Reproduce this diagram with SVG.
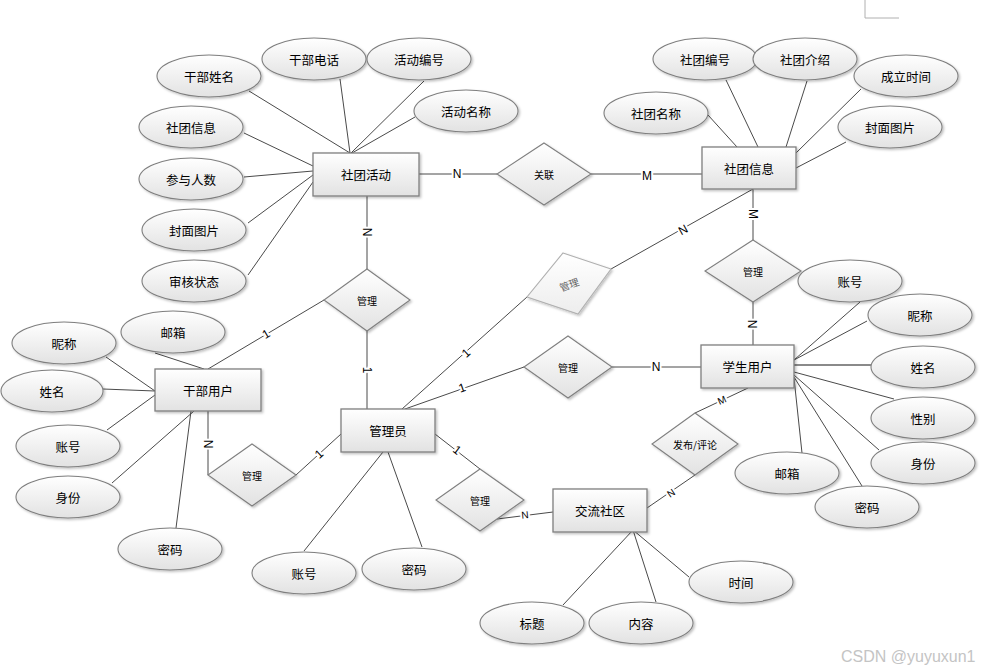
<svg xmlns="http://www.w3.org/2000/svg" width="990" height="668" viewBox="0 0 990 668">
<defs>
  <linearGradient id="g" x1="0" y1="0" x2="0" y2="1">
    <stop offset="0" stop-color="#ffffff"/>
    <stop offset="1" stop-color="#e2e2e2"/>
  </linearGradient>
  <linearGradient id="gl" x1="0" y1="0" x2="0" y2="1">
    <stop offset="0" stop-color="#ffffff"/>
    <stop offset="1" stop-color="#ededed"/>
  </linearGradient>
  <filter id="sh" x="-20%" y="-20%" width="140%" height="150%">
    <feDropShadow dx="1.5" dy="1.5" stdDeviation="1" flood-color="#000" flood-opacity="0.25"/>
  </filter>
</defs>
<style>
  .ent rect{fill:url(#g);stroke:#7f7f7f;stroke-width:1.3;filter:url(#sh)}
  .attr ellipse{fill:url(#g);stroke:#7f7f7f;stroke-width:1.1;filter:url(#sh)}
  .rel polygon{fill:url(#g);stroke:#7f7f7f;stroke-width:1.1;filter:url(#sh)}
  .rel.faint polygon{fill:url(#gl);stroke:#b0b0b0}
  text{font-family:"Noto Sans CJK SC","Liberation Sans",sans-serif;text-anchor:middle;dominant-baseline:central;fill:#000}
  .ent text,.attr text{font-size:12.5px}
  .rel text{font-size:10px}
  .rel.faint text{fill:#606060}
  #connectors line,#connectors polyline{stroke:#4a4a4a;stroke-width:1;fill:none}
  #connectors .thick{stroke:#8a8a8a;stroke-width:2}
  .lbl{font-family:"Liberation Sans",sans-serif;font-size:12px;paint-order:stroke;stroke:#fff;stroke-width:4px;stroke-linejoin:round}
  .wm{font-family:"Liberation Sans",sans-serif;font-size:16px;fill:#c4c4c4;text-anchor:start}
</style>
<rect width="990" height="668" fill="#fff"/>
<path d="M865,0 V18 H899" fill="none" stroke="#b0b0b0" stroke-width="1"/>

<g id="connectors">
  <line x1="249" y1="91" x2="350" y2="153"/>
  <line x1="340" y1="79" x2="350" y2="153"/>
  <line x1="424" y1="81" x2="351" y2="153"/>
  <line x1="415" y1="117" x2="352" y2="153"/>
  <line x1="244" y1="133" x2="313" y2="166"/>
  <line x1="244" y1="177" x2="313" y2="171"/>
  <line x1="248" y1="223" x2="313" y2="175"/>
  <line x1="248" y1="275" x2="313" y2="182"/>

  <line x1="708" y1="115" x2="737" y2="147"/>
  <line x1="726" y1="80" x2="758" y2="147"/>
  <line x1="807" y1="81" x2="786" y2="147"/>
  <line x1="861" y1="89" x2="796" y2="153"/>
  <line x1="846" y1="142" x2="796" y2="168"/>

  <line x1="419" y1="174" x2="497" y2="174"/>
  <line x1="591" y1="174" x2="702" y2="174"/>
  <line x1="367" y1="196" x2="367" y2="269"/>
  <line x1="367" y1="331" x2="367" y2="409"/>
  <line x1="208" y1="369" x2="324" y2="300"/>
  <polyline points="208,411 208,475"/>
  <line x1="296" y1="475" x2="341" y2="434"/>
  <line x1="402" y1="409" x2="527" y2="297"/>
  <line x1="611" y1="269" x2="753" y2="189"/>
  <line x1="405" y1="409" x2="524" y2="367"/>
  <line x1="612" y1="367" x2="701" y2="367"/>
  <line x1="753" y1="189" x2="753" y2="240"/>
  <line x1="753" y1="302" x2="753" y2="345"/>
  <line x1="435" y1="434" x2="480" y2="469"/>
  <line x1="497" y1="519" x2="553" y2="512"/>
  <line x1="647" y1="508" x2="695" y2="475"/>
  <line x1="695" y1="413" x2="748" y2="388"/>

  <line x1="106" y1="357" x2="155" y2="391"/>
  <line x1="155" y1="353" x2="204" y2="369"/>
  <line x1="103" y1="389" x2="155" y2="391"/>
  <line x1="107" y1="430" x2="155" y2="395"/>
  <line x1="112" y1="483" x2="194" y2="411"/>
  <line x1="176" y1="528" x2="191" y2="411"/>

  <line x1="304" y1="551" x2="383" y2="452"/>
  <line x1="422" y1="547" x2="388" y2="452"/>

  <line x1="860" y1="302" x2="794" y2="360"/>
  <line x1="867" y1="321" x2="794" y2="360"/>
  <line class="thick" x1="794" y1="365" x2="871" y2="365"/>
  <line x1="794" y1="372" x2="894" y2="399"/>
  <line x1="794" y1="375" x2="879" y2="450"/>
  <line x1="794" y1="377" x2="862" y2="486"/>
  <line x1="794" y1="378" x2="802" y2="453"/>

  <line x1="633" y1="530" x2="563" y2="605"/>
  <line x1="633" y1="530" x2="656" y2="602"/>
  <line x1="633" y1="530" x2="689" y2="577"/>

  <text class="lbl" x="457" y="174">N</text>
  <text class="lbl" x="647" y="176">M</text>
  <text class="lbl" transform="translate(367,232) rotate(90)">N</text>
  <text class="lbl" transform="translate(367,370) rotate(90)">1</text>
  <text class="lbl" transform="translate(266,334) rotate(-31)">1</text>
  <text class="lbl" transform="translate(208,444) rotate(90)">N</text>
  <text class="lbl" transform="translate(319,454) rotate(-42)">1</text>
  <text class="lbl" transform="translate(466,353) rotate(-42)">1</text>
  <text class="lbl" transform="translate(462,388) rotate(-19)">1</text>
  <text class="lbl" transform="translate(683,230) rotate(-29)">N</text>
  <text class="lbl" transform="translate(753,214) rotate(90)">M</text>
  <text class="lbl" transform="translate(752,324) rotate(90)">N</text>
  <text class="lbl" x="656" y="367">N</text>
  <text class="lbl" transform="translate(457,450) rotate(37)">1</text>
  <text class="lbl" transform="translate(525,515) rotate(-6)" style="font-size:10px">N</text>
  <text class="lbl" transform="translate(671,493) rotate(-34)" style="font-size:10px">N</text>
  <text class="lbl" transform="translate(722,400) rotate(-24)" style="font-size:10px">M</text>
</g>

<g id="ent-shetuanhuodong" class="ent"><rect x="313" y="153" width="106" height="43"/><text x="366" y="174.5">社团活动</text></g>
<g id="ent-shetuanxinxi" class="ent"><rect x="702" y="147" width="94" height="42"/><text x="749" y="168">社团信息</text></g>
<g id="ent-ganbuyonghu" class="ent"><rect x="155" y="369" width="106" height="42"/><text x="208" y="390">干部用户</text></g>
<g id="ent-guanliyuan" class="ent"><rect x="341" y="409" width="94" height="43"/><text x="388" y="430.5">管理员</text></g>
<g id="ent-xueshengyonghu" class="ent"><rect x="701" y="345" width="93" height="43"/><text x="747.5" y="366.5">学生用户</text></g>
<g id="ent-jiaoliushequ" class="ent"><rect x="553" y="489" width="94" height="43"/><text x="600" y="510.5">交流社区</text></g>

<g id="rel-guanlian" class="rel"><polygon points="544,143 591,174 544,205 497,174"/><text x="544" y="174">关联</text></g>
<g id="rel-guanli-1" class="rel"><polygon points="367,269 410,300 367,331 324,300"/><text x="367" y="300">管理</text></g>
<g id="rel-guanli-2" class="rel"><polygon points="753,240 801,271 753,302 705,271"/><text x="753" y="271">管理</text></g>
<g id="rel-guanli-3" class="rel faint"><polygon points="563,253 611,269 578,314 527,297"/><text transform="translate(569,284) rotate(-20)">管理</text></g>
<g id="rel-guanli-4" class="rel"><polygon points="568,336 612,367 568,398 524,367"/><text x="568" y="367">管理</text></g>
<g id="rel-guanli-5" class="rel"><polygon points="252,444 296,475 252,506 208,475"/><text x="252" y="475">管理</text></g>
<g id="rel-guanli-6" class="rel"><polygon points="480,469 524,500 480,531 436,500"/><text x="480" y="500">管理</text></g>
<g id="rel-fabu" class="rel"><polygon points="695,413 738,444 695,475 652,444"/><text x="695" y="444">发布/评论</text></g>

<g id="attr-ganbuxingming" class="attr"><ellipse cx="209" cy="76" rx="52" ry="21"/><text x="209" y="76">干部姓名</text></g>
<g id="attr-ganbudianhua" class="attr"><ellipse cx="314" cy="59" rx="52" ry="21"/><text x="314" y="59">干部电话</text></g>
<g id="attr-huodongbianhao" class="attr"><ellipse cx="419" cy="59" rx="52" ry="21"/><text x="419" y="59">活动编号</text></g>
<g id="attr-huodongmingcheng" class="attr"><ellipse cx="466" cy="111" rx="52" ry="21"/><text x="466" y="111">活动名称</text></g>
<g id="attr-shetuanxinxi" class="attr"><ellipse cx="191" cy="127" rx="52" ry="21"/><text x="191" y="127">社团信息</text></g>
<g id="attr-canyurenshu" class="attr"><ellipse cx="191" cy="179" rx="52" ry="21"/><text x="191" y="179">参与人数</text></g>
<g id="attr-fengmian-1" class="attr"><ellipse cx="194" cy="230" rx="52" ry="21"/><text x="194" y="230">封面图片</text></g>
<g id="attr-shenhe" class="attr"><ellipse cx="194" cy="281" rx="52" ry="21"/><text x="194" y="281">审核状态</text></g>

<g id="attr-shetuanbianhao" class="attr"><ellipse cx="705" cy="59" rx="52" ry="21"/><text x="705" y="59">社团编号</text></g>
<g id="attr-shetuanjieshao" class="attr"><ellipse cx="805" cy="59" rx="52" ry="21"/><text x="805" y="59">社团介绍</text></g>
<g id="attr-chenglishijian" class="attr"><ellipse cx="906" cy="76" rx="52" ry="21"/><text x="906" y="76">成立时间</text></g>
<g id="attr-fengmian-2" class="attr"><ellipse cx="890" cy="127" rx="52" ry="21"/><text x="890" y="127">封面图片</text></g>
<g id="attr-shetuanmingcheng" class="attr"><ellipse cx="656" cy="113" rx="52" ry="21"/><text x="656" y="113">社团名称</text></g>

<g id="attr-gb-nicheng" class="attr"><ellipse cx="64" cy="343" rx="52" ry="21"/><text x="64" y="343">昵称</text></g>
<g id="attr-gb-youxiang" class="attr"><ellipse cx="173" cy="332" rx="52" ry="21"/><text x="173" y="332">邮箱</text></g>
<g id="attr-gb-xingming" class="attr"><ellipse cx="52" cy="391" rx="51" ry="21"/><text x="52" y="391">姓名</text></g>
<g id="attr-gb-zhanghao" class="attr"><ellipse cx="68" cy="446" rx="52" ry="21"/><text x="68" y="446">账号</text></g>
<g id="attr-gb-shenfen" class="attr"><ellipse cx="68" cy="497" rx="52" ry="21"/><text x="68" y="497">身份</text></g>
<g id="attr-gb-mima" class="attr"><ellipse cx="170" cy="549" rx="52" ry="21"/><text x="170" y="549">密码</text></g>

<g id="attr-gl-zhanghao" class="attr"><ellipse cx="304" cy="573" rx="52" ry="21"/><text x="304" y="573">账号</text></g>
<g id="attr-gl-mima" class="attr"><ellipse cx="414" cy="569" rx="52" ry="21"/><text x="414" y="569">密码</text></g>

<g id="attr-xs-zhanghao" class="attr"><ellipse cx="850" cy="281" rx="52" ry="21"/><text x="850" y="281">账号</text></g>
<g id="attr-xs-nicheng" class="attr"><ellipse cx="920" cy="315" rx="52" ry="21"/><text x="920" y="315">昵称</text></g>
<g id="attr-xs-xingming" class="attr"><ellipse cx="923" cy="367" rx="52" ry="21"/><text x="923" y="367">姓名</text></g>
<g id="attr-xs-xingbie" class="attr"><ellipse cx="923" cy="418" rx="52" ry="21"/><text x="923" y="418">性别</text></g>
<g id="attr-xs-shenfen" class="attr"><ellipse cx="923" cy="463" rx="52" ry="21"/><text x="923" y="463">身份</text></g>
<g id="attr-xs-youxiang" class="attr"><ellipse cx="787" cy="473" rx="52" ry="21"/><text x="787" y="473">邮箱</text></g>
<g id="attr-xs-mima" class="attr"><ellipse cx="867" cy="507" rx="52" ry="21"/><text x="867" y="507">密码</text></g>

<g id="attr-biaoti" class="attr"><ellipse cx="532" cy="623" rx="52" ry="21"/><text x="532" y="623">标题</text></g>
<g id="attr-neirong" class="attr"><ellipse cx="641" cy="623" rx="52" ry="21"/><text x="641" y="623">内容</text></g>
<g id="attr-shijian" class="attr"><ellipse cx="741" cy="582" rx="52" ry="21"/><text x="741" y="582">时间</text></g>

<text class="wm" x="841" y="656">CSDN @yuyuxun1</text>
</svg>
